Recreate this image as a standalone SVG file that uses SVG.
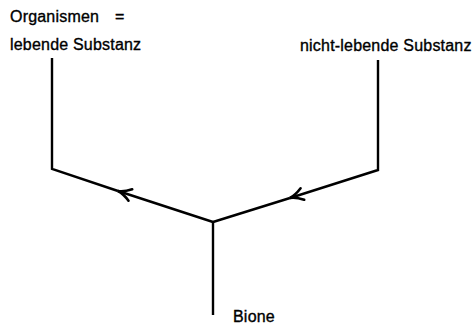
<svg xmlns="http://www.w3.org/2000/svg" width="476" height="327" viewBox="0 0 476 327">
<defs>
<style>
.t{font-family:"Liberation Sans",Arial,sans-serif;font-size:16px;fill:#000;stroke:#000;stroke-width:0.35px;letter-spacing:0.2px}
.ln{fill:none;stroke:#000;stroke-width:2.4;stroke-linejoin:miter}
</style>
<marker id="chev" viewBox="-16 -9 18 18" markerWidth="18" markerHeight="18" refX="0" refY="0" orient="auto" markerUnits="userSpaceOnUse">
<path d="M-13,-6 Q-6,-1 0,0 Q-6,1 -13,6" fill="none" stroke="#000" stroke-width="2.6" stroke-linecap="round"/>
</marker>
</defs>
<rect width="476" height="327" fill="#fff"/>
<g id="organismen">
<text class="t" x="10" y="22">Organismen</text>
<text class="t" x="115" y="22">=</text>
<text class="t" x="10" y="50">lebende Substanz</text>
</g>
<g id="nicht-lebende">
<text class="t" x="300" y="51">nicht-lebende Substanz</text>
</g>
<g id="bione">
<text class="t" x="233" y="322">Bione</text>
</g>
<g id="connectors">
<path class="ln" d="M378,60 L378,170 L290,198" marker-end="url(#chev)"/>
<path class="ln" d="M290,198 L213,222"/>
<path class="ln" d="M213,222 L118,191" marker-end="url(#chev)"/>
<path class="ln" d="M118,191 L52,169 L52,58"/>
<path class="ln" d="M213,222 L213,315"/>
</g>
</svg>
